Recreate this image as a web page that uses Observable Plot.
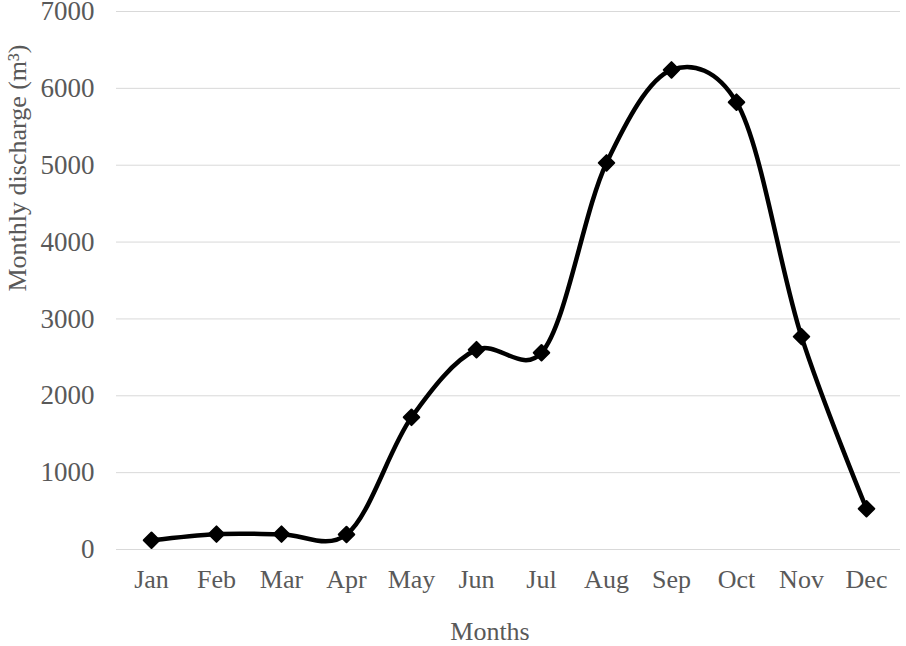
<!DOCTYPE html>
<html>
<head>
<meta charset="utf-8">
<script src="https://cdn.jsdelivr.net/npm/d3@7"></script>
<script src="https://cdn.jsdelivr.net/npm/@observablehq/plot@0.6"></script>
<style>
  html, body { margin: 0; padding: 0; background: #fff; }
  #chart svg { display: block; }
</style>
</head>
<body>
<div id="chart"></div>
<script>
const months = ["Jan","Feb","Mar","Apr","May","Jun","Jul","Aug","Sep","Oct","Nov","Dec"];
const discharge = [120, 200, 200, 195, 1720, 2600, 2560, 5030, 6240, 5820, 2770, 530];
const yTicks = [0, 1000, 2000, 3000, 4000, 5000, 6000, 7000];
const xTitle = "Months";
const yTitle = "Monthly discharge (m³)";

const data = months.map((m, i) => ({month: m, value: discharge[i]}));

const font = "'Liberation Serif', 'Times New Roman', serif";
const textColor = "#595959";

const chart = Plot.plot({
  width: 906,
  height: 646,
  marginLeft: 116,
  marginRight: 6,
  marginTop: 11,
  marginBottom: 97,
  style: {fontFamily: font, fontSize: "26px", color: textColor, background: "#fff", overflow: "visible"},
  x: {type: "point", domain: months, padding: 0.5, label: null},
  y: {domain: [0, 7000], label: null},
  marks: [
    Plot.gridY(yTicks, {stroke: "#d9d9d9", strokeOpacity: 1, strokeWidth: 1}),
    Plot.axisY(yTicks, {tickSize: 0, tickPadding: 22, label: null, fontSize: 27, fill: textColor, tickFormat: d3.format("d")}),
    Plot.axisX(months, {tickSize: 0, tickPadding: 20, label: null, fontSize: 26, fill: textColor}),
    Plot.line(data, {x: "month", y: "value", curve: d3.curveCatmullRom.alpha(0.2), stroke: "#000", strokeWidth: 4.5}),
    Plot.dot(data, {x: "month", y: "value", symbol: "diamond2", r: 7, fill: "#000", stroke: "#000", strokeWidth: 2, strokeLinejoin: "round"})
  ]
});

const svg = d3.select(chart);
svg.append("text")
  .attr("transform", "translate(20,168) rotate(-90)")
  .attr("text-anchor", "middle")
  .attr("dominant-baseline", "middle")
  .attr("font-family", font)
  .attr("font-size", 26)
  .attr("fill", textColor)
  .text(yTitle);
svg.append("text")
  .attr("x", 490)
  .attr("y", 640)
  .attr("text-anchor", "middle")
  .attr("font-family", font)
  .attr("font-size", 26)
  .attr("fill", textColor)
  .text(xTitle);

document.getElementById("chart").appendChild(chart);
</script>
</body>
</html>
